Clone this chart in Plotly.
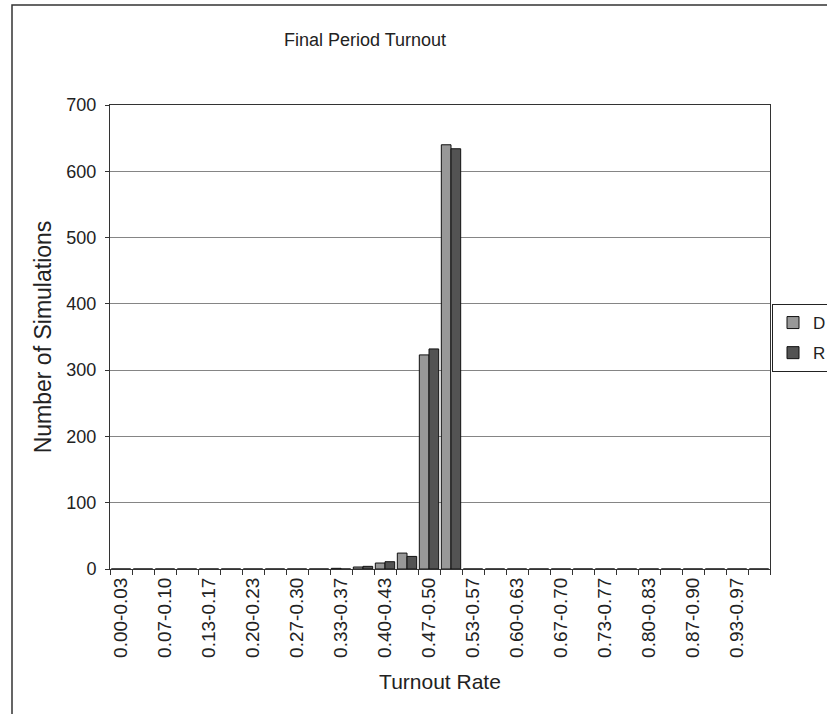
import plotly.graph_objects as go

categories = ["0.00-0.03", "0.03-0.07", "0.07-0.10", "0.10-0.13", "0.13-0.17",
              "0.17-0.20", "0.20-0.23", "0.23-0.27", "0.27-0.30", "0.30-0.33",
              "0.33-0.37", "0.37-0.40", "0.40-0.43", "0.43-0.47", "0.47-0.50",
              "0.50-0.53", "0.53-0.57", "0.57-0.60", "0.60-0.63", "0.63-0.67",
              "0.67-0.70", "0.70-0.73", "0.73-0.77", "0.77-0.80", "0.80-0.83",
              "0.83-0.87", "0.87-0.90", "0.90-0.93", "0.93-0.97", "0.97-1.00"]

d_values = [0, 0, 0, 0, 0, 0, 0, 0, 0, 0,
            1, 3, 9, 24, 323, 640, 0, 0, 0, 0,
            0, 0, 0, 0, 0, 0, 0, 0, 0, 0]
r_values = [0, 0, 0, 0, 0, 0, 0, 0, 0, 0,
            0, 4, 11, 19, 332, 634, 0, 0, 0, 0,
            0, 0, 0, 0, 0, 0, 0, 0, 0, 0]

tick_text = [c if i % 2 == 0 else "" for i, c in enumerate(categories)]
y_ticks = [0, 100, 200, 300, 400, 500, 600, 700]

FONT = "Liberation Sans, Arial, sans-serif"
W, H = 827, 714
PL, PR, PT, PB = 110, 770, 105, 569  # plot area in pixels


def px_x(p):
    return p / W


def px_y(p):
    return 1 - p / H


fig = go.Figure()
fig.add_trace(go.Bar(x=categories, y=d_values, name="D", legendgroup="D",
                     marker=dict(color="#989898", line=dict(color="#111111", width=1))))
fig.add_trace(go.Bar(x=categories, y=r_values, name="R", legendgroup="R",
                     marker=dict(color="#535353", line=dict(color="#111111", width=1))))

fig.update_layout(
    width=W, height=H,
    margin=dict(l=0, r=0, t=0, b=0, autoexpand=False),
    paper_bgcolor="white", plot_bgcolor="white",
    font=dict(family=FONT, color="#222222"),
    barmode="group", bargap=0.12, bargroupgap=0,
    title=dict(text="Final Period Turnout", font=dict(size=18, color="#222222"),
               x=px_x(365), xref="paper", xanchor="center",
               y=px_y(40), yref="paper", yanchor="middle"),
    legend=dict(x=px_x(772), y=px_y(304), xanchor="left", yanchor="top",
                bordercolor="#222222", borderwidth=1, bgcolor="white",
                font=dict(size=17, color="#222222"),
                traceorder="grouped", tracegroupgap=5, itemwidth=30),
    showlegend=True,
)

fig.update_xaxes(
    domain=[px_x(PL), px_x(PR)],
    type="category", tickmode="array", tickvals=categories, ticktext=tick_text,
    tickangle=-90, tickson="boundaries", ticks="outside", ticklen=5,
    tickcolor="#333333", tickfont=dict(size=19, color="#222222"),
    showline=True, linecolor="#333333", linewidth=1, mirror=True,
    showgrid=False, range=[-0.5, 29.5],
    title=dict(text="Turnout Rate", font=dict(size=21, color="#222222"), standoff=17),
)
fig.update_yaxes(
    domain=[px_y(PB), px_y(PT)],
    range=[0, 700], tickmode="array", tickvals=y_ticks,
    ticks="outside", ticklen=4, tickcolor="#333333",
    tickfont=dict(size=18, color="#222222"), ticklabelstandoff=5,
    showline=True, linecolor="#333333", linewidth=1, mirror=True,
    showgrid=True, gridcolor="#858585", gridwidth=1.2, zeroline=False,
    title=dict(text="Number of Simulations", font=dict(size=23, color="#222222"), standoff=8),
)

# outer chart border
fig.add_shape(type="rect", xref="paper", yref="paper",
              x0=px_x(12), x1=px_x(900), y0=px_y(760), y1=px_y(5),
              line=dict(color="#333333", width=1.5), layer="below")

fig.write_html("out.html", config={"displayModeBar": False},
               post_script="document.body.style.margin='0';")
